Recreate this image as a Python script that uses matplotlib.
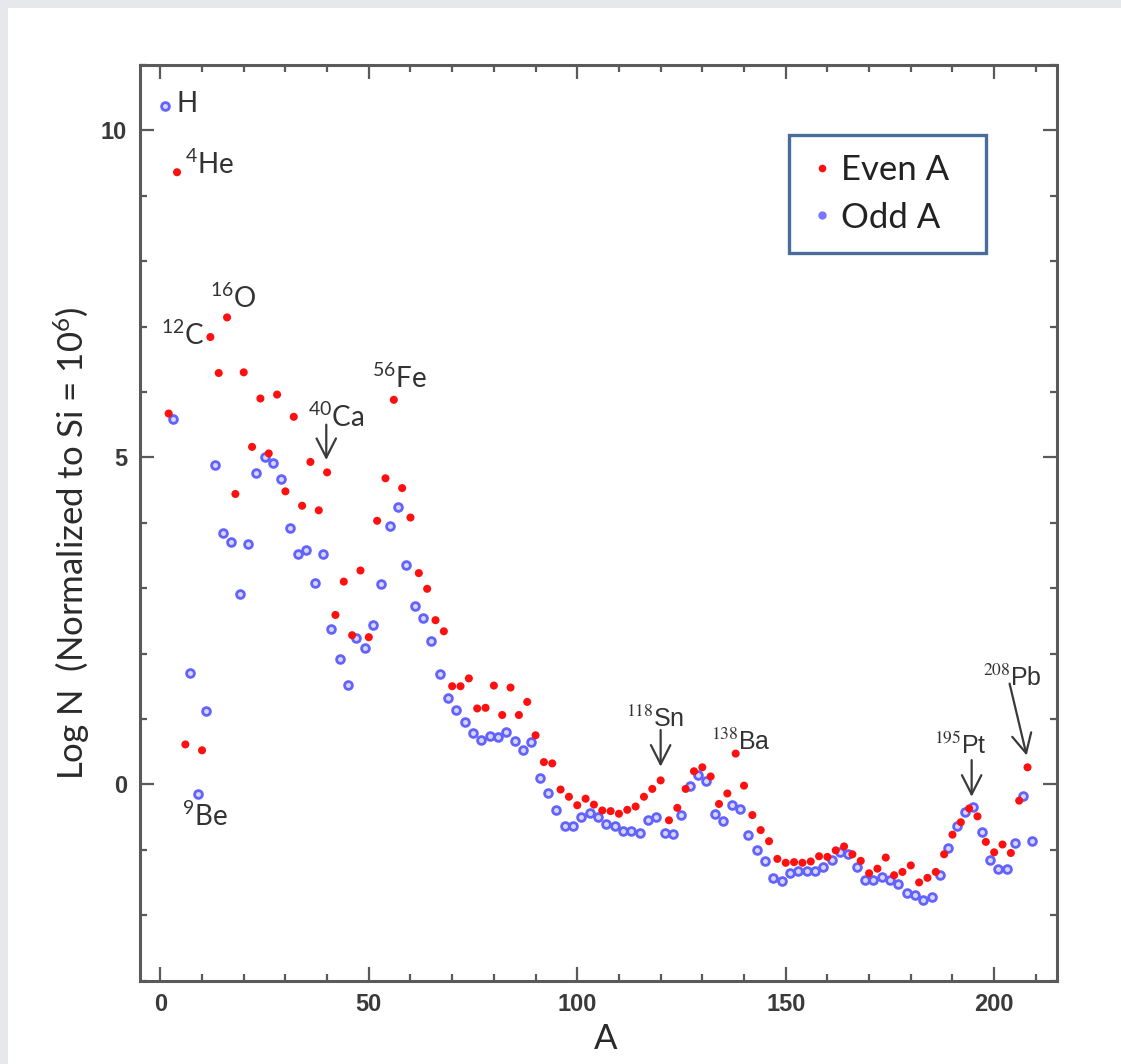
import matplotlib
matplotlib.use('Agg')
import matplotlib.pyplot as plt
from matplotlib.patches import Rectangle
from matplotlib.lines import Line2D
from matplotlib.ticker import MultipleLocator

# ---------------- data ----------------
even_A = [2, 4, 6, 10, 12, 14, 16, 18, 20, 22, 24, 26, 28, 30, 32, 34, 36, 38, 40,
          42, 44, 46, 48, 50, 52, 54, 56, 58, 60, 62, 64, 66, 68, 70, 72, 74, 76, 78,
          80, 82, 84, 86, 88, 90, 92, 94, 96, 98, 100, 102, 104, 106, 108, 110, 112,
          114, 116, 118, 120, 122, 124, 126, 128, 130, 132, 134, 136, 138, 140, 142,
          144, 146, 148, 150, 152, 154, 156, 158, 160, 162, 164, 166, 168, 170, 172,
          174, 176, 178, 180, 182, 184, 186, 188, 190, 192, 194, 196, 198, 200, 202,
          204, 206, 208]
even_logN = [5.67, 9.36, 0.61, 0.52, 6.84, 6.29, 7.14, 4.44, 6.30, 5.16, 5.90, 5.06,
             5.96, 4.48, 5.62, 4.26, 4.93, 4.19, 4.77, 2.59, 3.10, 2.28, 3.27, 2.25,
             4.03, 4.68, 5.88, 4.53, 4.08, 3.23, 2.99, 2.51, 2.34, 1.50, 1.50, 1.62,
             1.16, 1.17, 1.51, 1.06, 1.48, 1.06, 1.26, 0.75, 0.34, 0.32, -0.08, -0.19,
             -0.32, -0.22, -0.31, -0.40, -0.41, -0.45, -0.39, -0.34, -0.19, -0.07, 0.06,
             -0.55, -0.36, -0.07, 0.20, 0.26, 0.12, -0.30, -0.14, 0.47, -0.02, -0.47,
             -0.70, -0.87, -1.14, -1.20, -1.19, -1.20, -1.18, -1.10, -1.11, -1.01, -0.95,
             -1.07, -1.17, -1.36, -1.29, -1.12, -1.39, -1.34, -1.24, -1.50, -1.43, -1.34,
             -1.07, -0.77, -0.58, -0.37, -0.49, -0.88, -1.04, -0.92, -1.05, -0.25, 0.26]

odd_A = [1, 3, 7, 9, 11, 13, 15, 17, 19, 21, 23, 25, 27, 29, 31, 33, 35, 37, 39, 41,
         43, 45, 47, 49, 51, 53, 55, 57, 59, 61, 63, 65, 67, 69, 71, 73, 75, 77, 79,
         81, 83, 85, 87, 89, 91, 93, 95, 97, 99, 101, 103, 105, 107, 109, 111, 113,
         115, 117, 119, 121, 123, 125, 127, 129, 131, 133, 135, 137, 139, 141, 143,
         145, 147, 149, 151, 153, 155, 157, 159, 161, 163, 165, 167, 169, 171, 173,
         175, 177, 179, 181, 183, 185, 187, 189, 191, 193, 195, 197, 199, 201, 203,
         205, 207, 209]
odd_logN = [10.38, 5.58, 1.70, -0.15, 1.12, 4.89, 3.85, 3.71, 2.91, 3.67, 4.76, 5.00,
            4.92, 4.67, 3.92, 3.52, 3.58, 3.08, 3.52, 2.38, 1.91, 1.52, 2.23, 2.09,
            2.43, 3.07, 3.95, 4.24, 3.36, 2.72, 2.54, 2.19, 1.68, 1.32, 1.13, 0.95,
            0.78, 0.68, 0.74, 0.72, 0.80, 0.66, 0.53, 0.65, 0.09, -0.14, -0.40, -0.63,
            -0.64, -0.50, -0.44, -0.50, -0.60, -0.63, -0.72, -0.72, -0.75, -0.55, -0.50,
            -0.75, -0.76, -0.47, -0.02, 0.14, 0.05, -0.46, -0.56, -0.32, -0.37, -0.78,
            -1.01, -1.17, -1.44, -1.48, -1.36, -1.33, -1.33, -1.32, -1.26, -1.15, -1.04,
            -1.07, -1.26, -1.46, -1.47, -1.42, -1.47, -1.52, -1.66, -1.69, -1.77, -1.73,
            -1.38, -0.98, -0.63, -0.42, -0.34, -0.73, -1.16, -1.29, -1.29, -0.90, -0.18,
            -0.87]

# isotope labels: text, x (left), y (baseline)
iso_labels = ['H', '$^{4}$He', '$^{12}$C', '$^{16}$O', '$^{40}$Ca', '$^{56}$Fe', '$^{9}$Be']
iso_x = [3.8, 5.8, 0.2, 11.8, 35.5, 50.8, 5.3]
iso_y = [10.28, 9.33, 6.72, 7.28, 5.47, 6.06, -0.64]

heavy_labels = [r'$^{\mathrm{118}}$Sn', r'$^{\mathrm{138}}$Ba', r'$^{\mathrm{195}}$Pt', r'$^{\mathrm{208}}$Pb']
heavy_x = [111.8, 132.2, 185.6, 197.4]
heavy_y = [0.87, 0.52, 0.46, 1.50]

# arrows: start (x, y) -> end (x, y)
arrow_start_x = [39.8, 120.0, 194.6, 203.7]
arrow_start_y = [5.50, 0.83, 0.37, 1.54]
arrow_end_x = [39.8, 120.0, 194.6, 207.8]
arrow_end_y = [4.96, 0.27, -0.19, 0.44]

legend_labels = ['Even A', 'Odd A']
x_label = 'A'
y_label = 'Log N  (Normalized to Si = 10$^{6}$)'

# ---------------- style ----------------
plt.rcParams['mathtext.fontset'] = 'stix'
plt.rcParams['mathtext.default'] = 'regular'
label_font = ['Lato', 'DejaVu Sans']
tick_font = ['Liberation Sans', 'DejaVu Sans']

W, H = 1121, 1064
fig = plt.figure(figsize=(W / 100, H / 100), dpi=100)
fig.patch.set_facecolor('#e6e8ec')
fig.patches.append(Rectangle((8 / W, 0), 1, 1 - 8 / H, transform=fig.transFigure,
                             facecolor='white', edgecolor='none', zorder=-10))

ax = fig.add_axes([139.5 / W, 1 - 980.5 / H, 917.2 / W, 915.5 / H])
ax.set_facecolor('white')

ax.scatter(odd_A, odd_logN, s=5.6 ** 2, marker='o', facecolor='#d6d6ff',
           edgecolor='#6262ff', linewidths=2.0, zorder=3)
ax.scatter(even_A, even_logN, s=5.8 ** 2, marker='o', facecolor='#ff1010',
           edgecolor='none', zorder=4)

ax.set_xlim(-5, 215)
ax.set_ylim(-3, 11)

ax.xaxis.set_major_locator(MultipleLocator(50))
ax.xaxis.set_minor_locator(MultipleLocator(10))
ax.yaxis.set_major_locator(MultipleLocator(5))
ax.yaxis.set_minor_locator(MultipleLocator(1))

for sp in ax.spines.values():
    sp.set_color('#5a5a5a')
    sp.set_linewidth(2.2)

ax.tick_params(which='both', direction='in', top=True, right=True, color='#5a5a5a')
ax.tick_params(which='major', length=10, width=1.6, pad=9)
ax.tick_params(which='minor', length=5, width=1.6)
for lab in ax.get_xticklabels() + ax.get_yticklabels():
    lab.set_fontfamily(tick_font)
    lab.set_fontsize(17)
    lab.set_fontweight('bold')
    lab.set_color('#3a3a3a')

ax.set_xlabel(x_label, fontsize=25, family=label_font, color='#2a2a2a')
ax.xaxis.set_label_coords(0.508, -0.064)
ax.xaxis.label.set_verticalalignment('center')
ax.set_ylabel(y_label, fontsize=25, family=label_font, color='#2a2a2a')
ax.yaxis.set_label_coords(-0.074, 0.478)
ax.yaxis.label.set_verticalalignment('center')

for t, x, y in zip(iso_labels, iso_x, iso_y):
    ax.text(x, y, t, fontsize=20, family=label_font, color='#333333',
            ha='left', va='baseline', zorder=5)
for t, x, y in zip(heavy_labels, heavy_x, heavy_y):
    ax.text(x, y, t, fontsize=18, family=tick_font, color='#333333',
            ha='left', va='baseline', zorder=5)

for x0, y0, x1, y1 in zip(arrow_start_x, arrow_start_y, arrow_end_x, arrow_end_y):
    ax.annotate('', xy=(x1, y1), xytext=(x0, y0),
                arrowprops=dict(arrowstyle='->,head_length=0.55,head_width=0.28',
                                color='#3a3a3a', lw=1.6, shrinkA=0, shrinkB=0,
                                mutation_scale=25), zorder=5)

handles = [Line2D([], [], marker='o', linestyle='none', markerfacecolor='#ff1010',
                  markeredgecolor='none', markersize=5.5),
           Line2D([], [], marker='o', linestyle='none', markerfacecolor='#7878ff',
                  markeredgecolor='#7878ff', markersize=5.0)]
leg = ax.legend(handles, legend_labels, loc='upper left',
                bbox_to_anchor=(0.708, 0.7947, 0.215, 0.129), mode='expand',
                prop={'family': label_font, 'size': 25}, frameon=True, fancybox=False,
                borderpad=0.55, handlelength=0.8, handletextpad=0.15,
                labelspacing=0.45, borderaxespad=0)
leg.get_frame().set_edgecolor('#4a6c9b')
leg.get_frame().set_linewidth(2.4)
leg.get_frame().set_alpha(1)
for txt in leg.get_texts():
    txt.set_color('#222222')

fig.savefig('out.png', dpi=100, facecolor=fig.get_facecolor())
